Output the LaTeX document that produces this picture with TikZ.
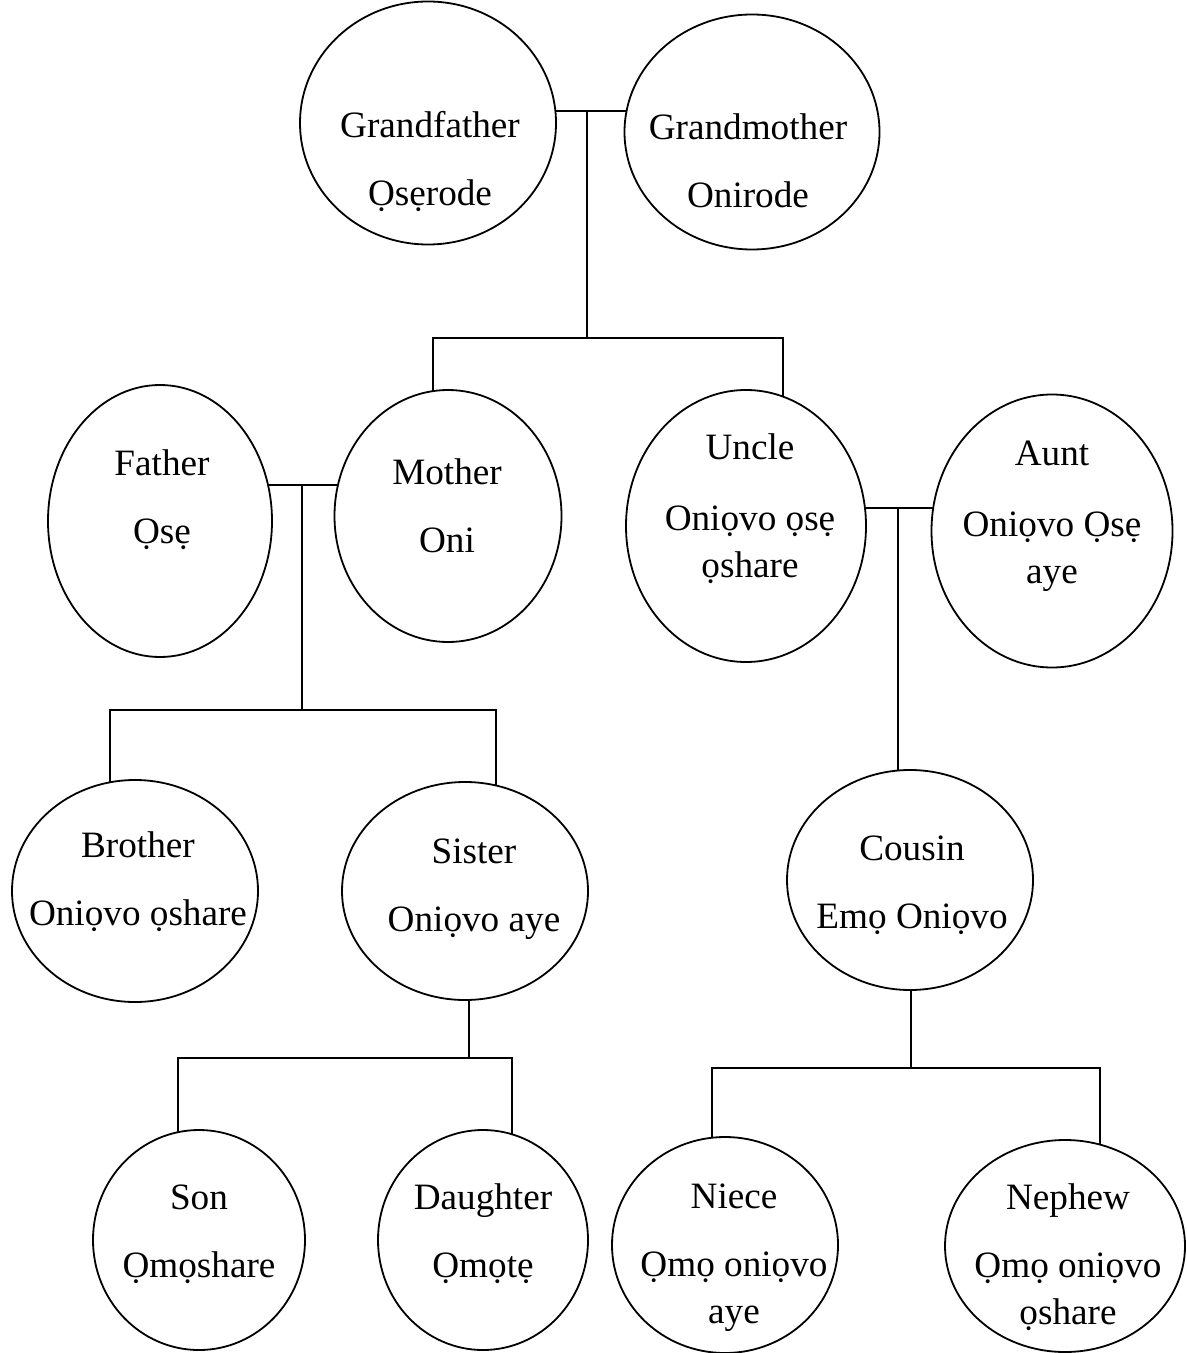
\documentclass[tikz,border=0pt]{standalone}
\usepackage{fontspec}
\setmainfont{Liberation Serif}
\usetikzlibrary{shapes.geometric,backgrounds}

\begin{document}
\begin{tikzpicture}[x=0.5pt, y=-0.5pt]

% Define person, text and line styles
\tikzstyle{person} = [draw=black, fill=white, ellipse, line width=0.9pt,
    inner sep=0pt, outer sep=0pt]
\tikzstyle{kintext} = [align=center, inner sep=0pt,
    font=\fontsize{18.6}{23.5}\selectfont]
\tikzstyle{kinline} = [draw=black, line width=0.9pt]

\useasboundingbox (0,0) rectangle (1187,1353);

% people
\node [person, minimum width=128pt, minimum height=121.5pt] (gf) at (428,123) {};
\node [person, minimum width=127.5pt, minimum height=117.5pt] (gm) at (752,132) {};
\node [person, minimum width=112pt, minimum height=136pt] (fa) at (160,521) {};
\node [person, minimum width=113.5pt, minimum height=126pt] (mo) at (448,516) {};
\node [person, minimum width=120pt, minimum height=136pt] (un) at (746,526) {};
\node [person, minimum width=120.5pt, minimum height=136.5pt] (au) at (1052,531) {};
\node [person, minimum width=123pt, minimum height=111pt] (br) at (135,891) {};
\node [person, minimum width=123pt, minimum height=109pt] (si) at (465,891) {};
\node [person, minimum width=123pt, minimum height=110pt] (co) at (910,880) {};
\node [person, minimum width=106pt, minimum height=110pt] (so) at (199,1240) {};
\node [person, minimum width=105pt, minimum height=110pt] (da) at (483,1240) {};
\node [person, minimum width=113pt, minimum height=108pt] (ni) at (725,1245) {};
\node [person, minimum width=120pt, minimum height=106pt] (ne) at (1065,1246) {};

% names
\node [kintext] (gf-txt) at (430,161) {Grandfather\\[10.5pt]Ọsẹrode};
\node [kintext] (gm-txt) at (748,161) {Grandmother\\[10.5pt]Onirode};
\node [kintext] (fa-txt) at (162,500) {Father\\[10.5pt]Ọsẹ};
\node [kintext] (mo-txt) at (447,506) {Mother\\[10.5pt]Oni};
\node [kintext] (un-txt) at (750,509) {Uncle\\[12pt]Oniọvo ọsẹ\\ọshare};
\node [kintext] (au-txt) at (1052,516) {Aunt\\[12pt]Oniọvo Ọsẹ\\aye};
\node [kintext] (br-txt) at (138,882) {Brother\\[10.5pt]Oniọvo ọshare};
\node [kintext] (si-txt) at (474,889) {Sister\\[10.5pt]Oniọvo aye};
\node [kintext] (co-txt) at (912,885) {Cousin\\[10.5pt]Emọ Oniọvo};
\node [kintext] (so-txt) at (199,1234) {Son\\[10.5pt]Ọmọshare};
\node [kintext] (da-txt) at (483,1234) {Daughter\\[10.5pt]Ọmọtẹ};
\node [kintext] (ni-txt) at (734,1258) {Niece\\[10.5pt]Ọmọ oniọvo\\aye};
\node [kintext] (ne-txt) at (1068,1257) {Nephew\\[10.5pt]Ọmọ oniọvo\\ọshare};

% family lines
\begin{pgfonlayer}{background}
\coordinate (gp) at (587,111);
\coordinate (g2l) at (433,338);
\coordinate (g2r) at (783,338);
\draw [kinline] (gf |- gp) -- (gm |- gp);
\draw [kinline] (gp) -- (gp |- g2l);
\draw [kinline] (g2l |- mo) -- (g2l) -- (g2r) -- (g2r |- un);

\coordinate (pa) at (302,485);
\coordinate (g3l) at (110,710);
\coordinate (g3r) at (496,710);
\draw [kinline] (fa |- pa) -- (mo |- pa);
\draw [kinline] (pa) -- (pa |- g3l);
\draw [kinline] (g3l |- br) -- (g3l) -- (g3r) -- (g3r |- si);

\coordinate (ua) at (898,508);
\draw [kinline] (un |- ua) -- (au |- ua);
\draw [kinline] (ua) -- (ua |- co);

\coordinate (sk) at (469,1058);
\coordinate (g4l) at (178,1058);
\coordinate (g4r) at (512,1058);
\draw [kinline] (sk |- si) -- (sk);
\draw [kinline] (g4l |- so) -- (g4l) -- (g4r) -- (g4r |- da);

\coordinate (ck) at (911,1068);
\coordinate (g5l) at (712,1068);
\coordinate (g5r) at (1100,1068);
\draw [kinline] (ck |- co) -- (ck);
\draw [kinline] (g5l |- ni) -- (g5l) -- (g5r) -- (g5r |- ne);
\end{pgfonlayer}

\end{tikzpicture}
\end{document}
